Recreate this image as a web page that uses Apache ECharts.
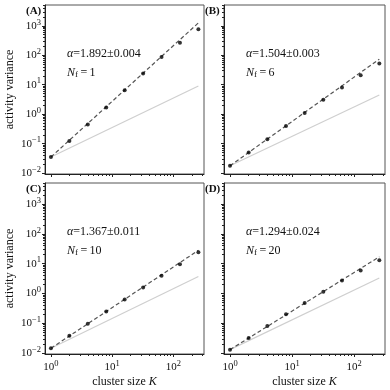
<!DOCTYPE html>
<html><head><meta charset="utf-8">
<script src="https://cdn.jsdelivr.net/npm/echarts@6/dist/echarts.min.js"></script>
<style>html,body{margin:0;padding:0;background:#fff}#c{width:390px;height:390px}</style>
</head><body><div id="c"></div>
<script>
// ---- data ----
const clusterK = [1, 2, 4, 8, 16, 32, 64, 128, 256];
const varA = [0.035, 0.123, 0.45, 1.7, 6.5, 24, 88, 265, 760];
const varB = [0.0177, 0.050, 0.141, 0.40, 1.09, 3.1, 8.0, 21, 53];
const varC = [0.0145, 0.038, 0.097, 0.25, 0.63, 1.6, 3.9, 9.6, 24];
const varD = [0.013, 0.032, 0.081, 0.20, 0.48, 1.15, 2.7, 5.9, 13];
const fitK = [1, 256];
const fitA = [0.035, 1260];
const fitB = [0.0177, 74];
const fitC = [0.0145, 28];
const fitD = [0.013, 17];
const refA = [0.035, 9.0];
const refB = [0.0177, 4.5];
const refC = [0.0145, 3.7];
const refD = [0.013, 3.3];
const panelTags = ['(A)', '(B)', '(C)', '(D)'];
const alphaTexts = ['1.892±0.004', '1.504±0.003', '1.367±0.011', '1.294±0.024'];
const nfTexts = ['1', '6', '10', '20'];
const xMajor = [1, 10, 100];
const xMinor = [2,3,4,5,6,7,8,9,20,30,40,50,60,70,80,90,200,300];
const yMajor = [0.01, 0.1, 1, 10, 100, 1000];
const yMinor = [0.02,0.03,0.04,0.05,0.06,0.07,0.08,0.09,0.2,0.3,0.4,0.5,0.6,0.7,0.8,0.9,
  2,3,4,5,6,7,8,9,20,30,40,50,60,70,80,90,200,300,400,500,600,700,800,900,2000,3000,4000,5000];

const series = [varA, varB, varC, varD];
const fits = [fitA, fitB, fitC, fitD];
const refs = [refA, refB, refC, refD];

const FONT = 'Liberation Serif';
const grids = [
  {left: 45, top: 5, width: 159, height: 169},
  {left: 224, top: 5, width: 161, height: 169},
  {left: 45, top: 183, width: 159, height: 171},
  {left: 224, top: 183, width: 161, height: 171}
];
const xMin = 0.8, xMax = 316, yMin = 0.0093, yMax = 5100;
function powLabel(v) {
  const e = Math.round(Math.log10(v));
  const es = e < 0 ? '\u2212' + (-e) : String(e);
  return '{b|10}{s|' + es + '}';
}
const labRich = {
  b: {fontFamily: FONT, fontSize: 11, color: '#111'},
  s: {fontFamily: FONT, fontSize: 8.5, color: '#111', padding: [0, 0, 7, 0]}
};

const xAxis = [], yAxis = [], allSeries = [], graphic = [];
grids.forEach((g, i) => {
  const bottomRow = i >= 2, leftCol = i % 2 === 0;
  g.show = true; g.borderColor = '#555'; g.borderWidth = 1; g.containLabel = false;
  xAxis.push({
    type: 'log', gridIndex: i, min: xMin, max: xMax, logBase: 10,
    axisLine: {show: true, onZero: false, lineStyle: {color: '#222', width: 1}},
    axisTick: {show: true, customValues: xMajor, length: 3, lineStyle: {color: '#222'}},
    axisLabel: {show: bottomRow, customValues: xMajor, formatter: powLabel, rich: labRich, margin: 5},
    splitLine: {show: false}, minorTick: {show: false},
    name: bottomRow ? 'cluster size {i|K}' : '', nameLocation: 'middle', nameGap: 22,
    nameTextStyle: {fontFamily: FONT, fontSize: 12, color: '#111',
      rich: {i: {fontFamily: FONT, fontSize: 12, fontStyle: 'italic', color: '#111'}}}
  });
  xAxis.push({
    type: 'log', gridIndex: i, min: xMin, max: xMax, logBase: 10, position: 'bottom',
    axisLine: {show: false}, axisLabel: {show: false}, splitLine: {show: false},
    axisTick: {show: true, customValues: xMinor, length: 2, lineStyle: {color: '#222'}}
  });
  yAxis.push({
    type: 'log', gridIndex: i, min: yMin, max: yMax, logBase: 10,
    axisLine: {show: true, onZero: false, lineStyle: {color: '#222', width: 1}},
    axisTick: {show: true, customValues: yMajor, length: 3, lineStyle: {color: '#222'}},
    axisLabel: {show: leftCol, customValues: yMajor, formatter: powLabel, rich: labRich, margin: 4},
    splitLine: {show: false},
    name: leftCol ? 'activity variance' : '', nameLocation: 'middle', nameGap: 29,
    nameTextStyle: {fontFamily: FONT, fontSize: 12, color: '#111'}
  });
  yAxis.push({
    type: 'log', gridIndex: i, min: yMin, max: yMax, logBase: 10, position: 'left',
    axisLine: {show: false}, axisLabel: {show: false}, splitLine: {show: false},
    axisTick: {show: true, customValues: yMinor, length: 2, lineStyle: {color: '#222'}}
  });
  const xi = i * 2, yi = i * 2;
  allSeries.push({
    type: 'line', xAxisIndex: xi, yAxisIndex: yi, symbol: 'none', silent: true,
    data: fitK.map((k, j) => [k, refs[i][j]]),
    lineStyle: {color: '#cfcfcf', width: 1.2}, z: 1
  });
  allSeries.push({
    type: 'line', xAxisIndex: xi, yAxisIndex: yi, symbol: 'none', silent: true,
    data: fitK.map((k, j) => [k, fits[i][j]]),
    lineStyle: {color: '#555', width: 1.2, type: [4, 2.5]}, z: 2
  });
  allSeries.push({
    type: 'scatter', xAxisIndex: xi, yAxisIndex: yi, symbolSize: 4,
    data: clusterK.map((k, j) => [k, series[i][j]]),
    itemStyle: {color: '#000'}, z: 3
  });
  const tx = g.left + 22, ty = g.top + 51;
  graphic.push({
    type: 'text', left: tx, top: ty - 8,
    style: {text: '{i|α}=' + alphaTexts[i], fontFamily: FONT, fontSize: 12, fill: '#111',
      rich: {i: {fontFamily: FONT, fontSize: 12, fontStyle: 'italic', fill: '#111'}}}
  });
  graphic.push({
    type: 'text', left: tx, top: ty + 11,
    style: {text: '{i|N}{s|f}\u2009=\u2009' + nfTexts[i], fontFamily: FONT, fontSize: 12, fill: '#111',
      rich: {i: {fontFamily: FONT, fontSize: 12, fontStyle: 'italic', fill: '#111'},
             s: {fontFamily: FONT, fontSize: 9, fill: '#111', padding: [4, 0, 0, 0]}}}
  });
  graphic.push({
    type: 'text', left: g.left - 19, top: g.top + 1,
    style: {text: panelTags[i], fontFamily: FONT, fontSize: 11, fontWeight: 'bold', fill: '#111'}
  });
});

const chart = echarts.init(document.getElementById('c'), null, {renderer: 'canvas'});
chart.setOption({
  animation: false, backgroundColor: '#fff',
  grid: grids, xAxis: xAxis, yAxis: yAxis, series: allSeries, graphic: graphic
});
</script></body></html>
